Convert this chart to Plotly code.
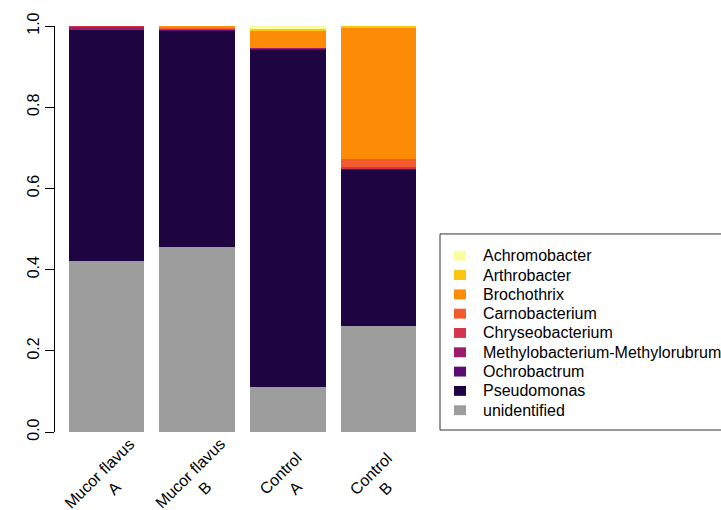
import plotly.graph_objects as go

# Relative abundance of genera per sample (stacked bottom -> top)
samples = ["Mucor flavus<br>A", "Mucor flavus<br>B", "Control<br>A", "Control<br>B"]
genera = ["Achromobacter", "Arthrobacter", "Brochothrix", "Carnobacterium",
          "Chryseobacterium", "Methylobacterium-Methylorubrum", "Ochrobactrum",
          "Pseudomonas", "unidentified"]
colors = ["#FBFCA2", "#FCC50F", "#FC8B05", "#F25A2F", "#D5344E",
          "#9B1C6B", "#5B0C71", "#1F0442", "#9D9D9D"]

achromobacter = [0.000, 0.000, 0.007, 0.000]
arthrobacter = [0.000, 0.000, 0.005, 0.004]
brochothrix = [0.000, 0.006, 0.042, 0.3235]
carnobacterium = [0.000, 0.001, 0.000, 0.0195]
chryseobacterium = [0.002, 0.001, 0.000, 0.003]
methylobacterium = [0.009, 0.001, 0.002, 0.002]
ochrobactrum = [0.000, 0.001, 0.001, 0.002]
pseudomonas = [0.569, 0.534, 0.833, 0.384]
unidentified = [0.420, 0.456, 0.110, 0.262]

values = [achromobacter, arthrobacter, brochothrix, carnobacterium,
          chryseobacterium, methylobacterium, ochrobactrum, pseudomonas,
          unidentified]

yticks = [0.0, 0.2, 0.4, 0.6, 0.8, 1.0]

# bar centres in barplot units (width 1, space 0.2)
centers = [0.7 + 1.2 * i for i in range(len(samples))]

W, H = 721, 510
L, R, T, B = 55, 291, 22, 78
plot_w = W - L - R
plot_h = H - T - B


def px_x(px):
    return (px - L) / plot_w


def px_y(py):
    return (H - B - py) / plot_h


font = "Liberation Sans, Arial, sans-serif"

fig = go.Figure()
# draw from the bottom of the stack upward
for name, col, vals in reversed(list(zip(genera, colors, values))):
    fig.add_trace(go.Bar(x=centers, y=vals, name=name, width=1.0,
                         marker=dict(color=col, line=dict(width=0)),
                         showlegend=False))

annotations = []
for c, s in zip(centers, samples):
    annotations.append(dict(x=c, xref="x", y=px_y(481), yref="paper",
                            text=s, showarrow=False, textangle=-45,
                            xanchor="center", yanchor="middle",
                            font=dict(family=font, size=16, color="black")))

# legend box with filled swatches
shapes = [dict(type="rect", xref="paper", yref="paper",
               x0=px_x(440), x1=px_x(760), y0=px_y(430), y1=px_y(232),
               line=dict(color="#333333", width=1), fillcolor="rgba(0,0,0,0)")]
for i, (name, col) in enumerate(zip(genera, colors)):
    cy = 254 + 19.5 * i
    shapes.append(dict(type="rect", xref="paper", yref="paper",
                       x0=px_x(454), x1=px_x(466), y0=px_y(cy + 5), y1=px_y(cy - 5),
                       line=dict(width=0), fillcolor=col))
    annotations.append(dict(x=px_x(480.5), xref="paper", y=px_y(cy), yref="paper",
                            text=name, showarrow=False, xanchor="left",
                            yanchor="middle",
                            font=dict(family=font, size=16, color="black")))

fig.update_layout(
    width=W, height=H, barmode="stack", bargap=0,
    margin=dict(l=L, r=R, t=T, b=B, pad=0),
    paper_bgcolor="white", plot_bgcolor="white",
    showlegend=False,
    xaxis=dict(range=[0.016, 4.984], showticklabels=False, showgrid=False,
               zeroline=False, showline=False, ticks=""),
    yaxis=dict(range=[0, 1], tickvals=yticks, ticktext=[f"{v:.1f}" for v in yticks],
               tickangle=-90, showgrid=False, zeroline=False, showline=True,
               linecolor="black", linewidth=1, ticks="outside", ticklen=9,
               tickcolor="black", tickwidth=1,
               tickfont=dict(family=font, size=16, color="black")),
    annotations=annotations, shapes=shapes,
)

fig.write_html("out.html")
